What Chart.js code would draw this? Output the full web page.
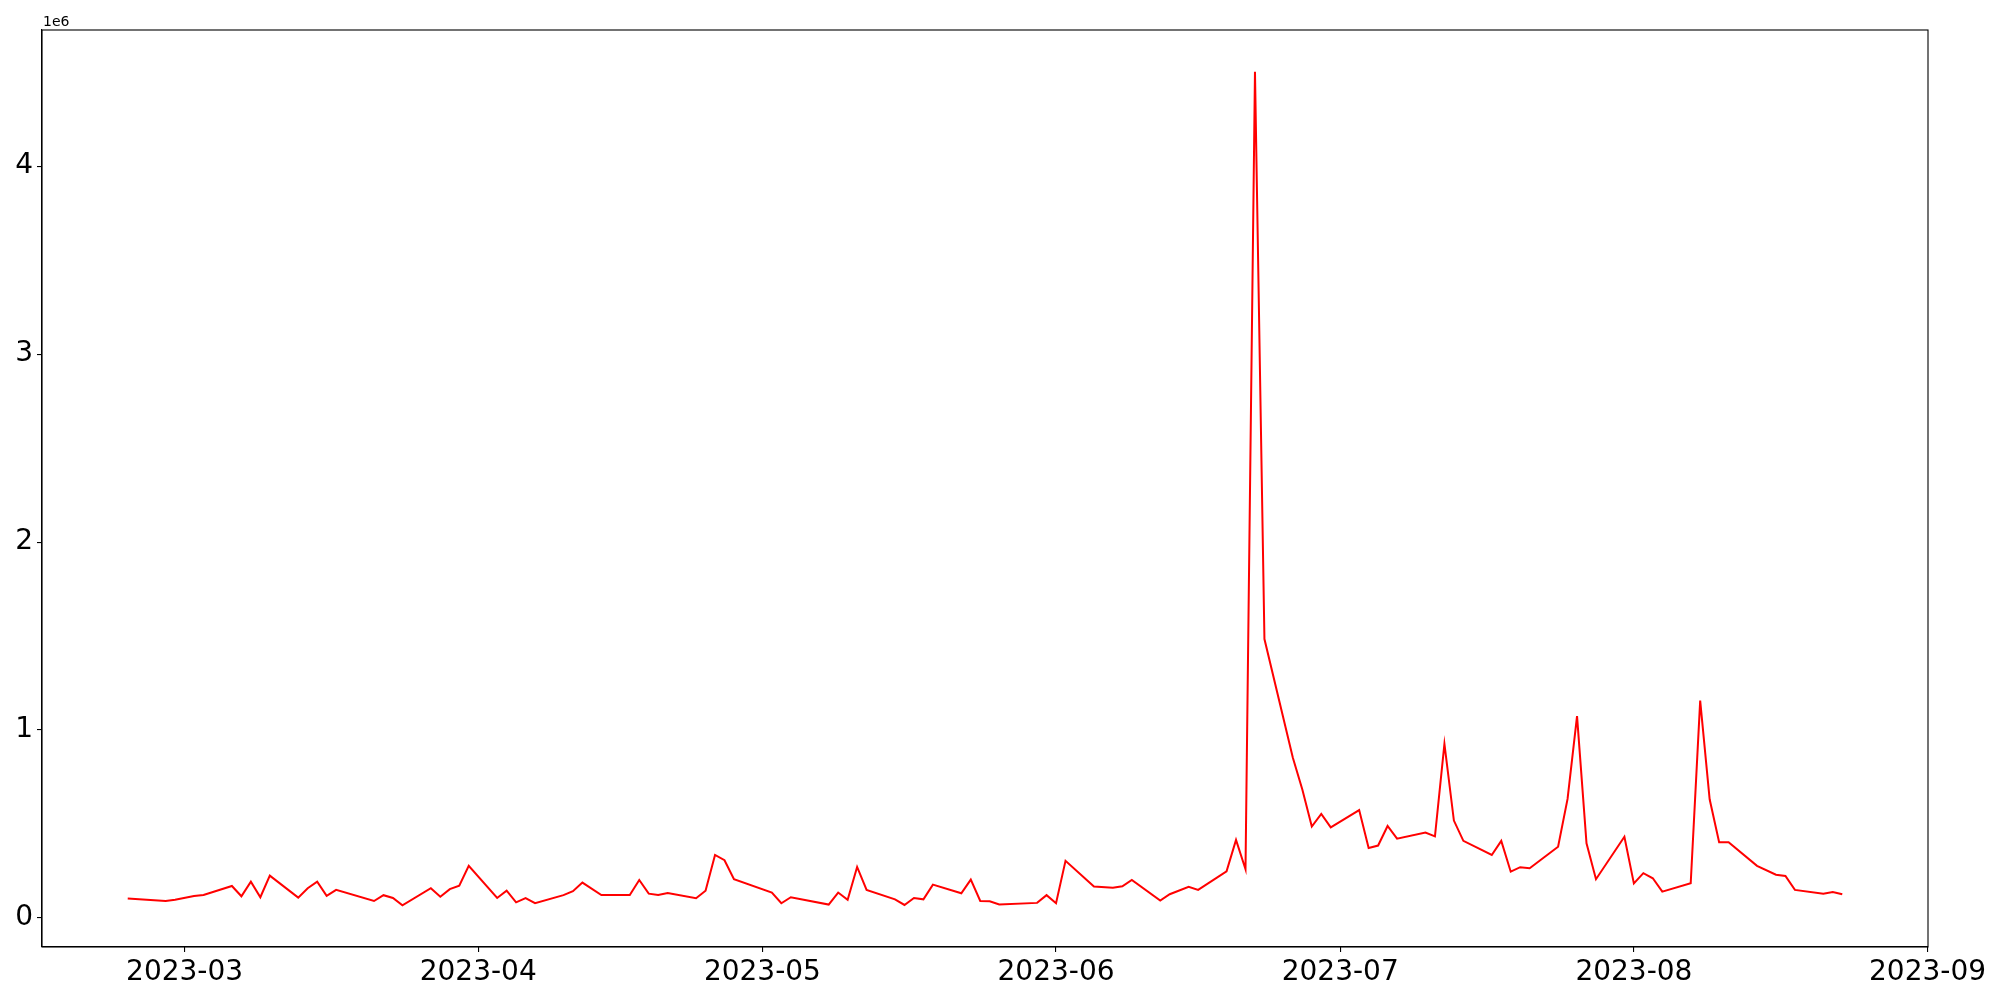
<!DOCTYPE html>
<html><head><meta charset="utf-8">
<script src="https://cdn.jsdelivr.net/npm/chart.js@4/dist/chart.umd.min.js"></script>
<style>html,body{margin:0;padding:0;background:#fff;}</style>
</head><body>
<canvas id="c" width="2000" height="1000"></canvas>
<script>
const dates = [
 '2023-02-23','2023-02-27','2023-02-28','2023-03-02','2023-03-03','2023-03-06','2023-03-07','2023-03-08','2023-03-09','2023-03-10',
 '2023-03-13','2023-03-14','2023-03-15','2023-03-16','2023-03-17','2023-03-21','2023-03-22','2023-03-23','2023-03-24',
 '2023-03-27','2023-03-28','2023-03-29','2023-03-30','2023-03-31','2023-04-03','2023-04-04','2023-04-05','2023-04-06','2023-04-07',
 '2023-04-10','2023-04-11','2023-04-12','2023-04-14','2023-04-17','2023-04-18','2023-04-19','2023-04-20','2023-04-21',
 '2023-04-24','2023-04-25','2023-04-26','2023-04-27','2023-04-28','2023-05-02','2023-05-03','2023-05-04',
 '2023-05-08','2023-05-09','2023-05-10','2023-05-11','2023-05-12','2023-05-15','2023-05-16','2023-05-17','2023-05-18','2023-05-19',
 '2023-05-22','2023-05-23','2023-05-24','2023-05-25','2023-05-26','2023-05-30','2023-05-31','2023-06-01','2023-06-02',
 '2023-06-05','2023-06-07','2023-06-08','2023-06-09','2023-06-12','2023-06-13','2023-06-15','2023-06-16',
 '2023-06-19','2023-06-20','2023-06-21','2023-06-22','2023-06-23','2023-06-26','2023-06-27','2023-06-28','2023-06-29','2023-06-30',
 '2023-07-03','2023-07-04','2023-07-05','2023-07-06','2023-07-07','2023-07-10','2023-07-11','2023-07-12','2023-07-13','2023-07-14',
 '2023-07-17','2023-07-18','2023-07-19','2023-07-20','2023-07-21','2023-07-24','2023-07-25','2023-07-26','2023-07-27','2023-07-28',
 '2023-07-31','2023-08-01','2023-08-02','2023-08-03','2023-08-04','2023-08-07','2023-08-08','2023-08-09','2023-08-10','2023-08-11',
 '2023-08-14','2023-08-16','2023-08-17','2023-08-18','2023-08-21','2023-08-22','2023-08-23'
];
const values = [
 103000, 90000, 97000, 117000, 122000, 170000, 115000, 193000, 110000, 225000,
 108000, 158000, 193000, 117000, 149000, 90000, 121000, 106000, 67000,
 158000, 113000, 153000, 172000, 277000, 106000, 145000, 83000, 105000, 78000,
 121000, 142000, 188000, 122000, 122000, 202000, 129000, 122000, 133000,
 105000, 145000, 335000, 307000, 206000, 135000, 78000, 110000,
 71000, 135000, 96000, 271000, 149000, 99000, 69000, 106000, 99000, 177000,
 131000, 204000, 90000, 89000, 71000, 80000, 121000, 78000, 304000,
 167000, 160000, 168000, 202000, 92000, 126000, 165000, 149000,
 248000, 415000, 259000, 4503000, 1484000, 852000, 683000, 486000, 553000, 482000,
 574000, 372000, 385000, 489000, 422000, 454000, 434000, 926000, 518000, 410000,
 335000, 410000, 246000, 270000, 264000, 379000, 633000, 1074000, 397000, 206000,
 432000, 184000, 238000, 211000, 140000, 184000, 1156000, 631000, 403000, 403000,
 277000, 230000, 223000, 149000, 128000, 138000, 126000
];
const monthTicks = ['2023-03','2023-04','2023-05','2023-06','2023-07','2023-08','2023-09'];
const yTicks = [0, 1000000, 2000000, 3000000, 4000000];
const offsetText = '1e6';

const DAY = 86400000;
const toDay = s => Date.parse(s + 'T00:00:00Z') / DAY;
const xs = dates.map(toDay);
const points = xs.map((x, i) => ({x: x, y: values[i]}));
const xMin0 = Math.min(...xs), xMax0 = Math.max(...xs);
const xPad = (xMax0 - xMin0) * 0.05;
const yMin0 = Math.min(...values), yMax0 = Math.max(...values);
const yPad = (yMax0 - yMin0) * 0.05;
const monthDays = monthTicks.map(m => toDay(m + '-01'));

Chart.defaults.font.family = "'DejaVu Sans', sans-serif";
Chart.defaults.color = '#000';

const frame = {
  id: 'frame',
  afterDraw(chart) {
    const ctx = chart.ctx, a = chart.chartArea;
    ctx.save();
    ctx.strokeStyle = '#000';
    ctx.lineWidth = 1.1;
    ctx.strokeRect(a.left, a.top, a.right - a.left, a.bottom - a.top);
    ctx.font = '14px "DejaVu Sans"';
    ctx.fillStyle = '#000';
    ctx.textAlign = 'left';
    ctx.textBaseline = 'alphabetic';
    ctx.fillText(offsetText, a.left + 1, a.top - 4);
    ctx.restore();
  }
};

const axisGrid = {drawOnChartArea: false, drawTicks: true, tickLength: 5, color: '#000', lineWidth: 1.1};
const axisBorder = {display: true, color: '#000', width: 1.1};

new Chart(document.getElementById('c'), {
  type: 'line',
  data: {datasets: [{data: points, borderColor: '#ff0000', borderWidth: 2, pointRadius: 0, tension: 0, fill: false}]},
  options: {
    responsive: false, animation: false, events: [],
    layout: {padding: {left: 0, right: 72, top: 30, bottom: 0}},
    plugins: {legend: {display: false}, tooltip: {enabled: false}},
    scales: {
      x: {
        type: 'linear', min: xMin0 - xPad, max: xMax0 + xPad,
        afterBuildTicks: s => { s.ticks = monthDays.map(v => ({value: v})); },
        afterFit: s => { s.height = 53; },
        ticks: {font: {size: 28}, padding: 4, maxRotation: 0, autoSkip: false,
                callback: (v, i) => monthTicks[i]},
        grid: axisGrid, border: axisBorder
      },
      y: {
        type: 'linear', min: yMin0 - yPad, max: yMax0 + yPad,
        afterBuildTicks: s => { s.ticks = yTicks.map(v => ({value: v})); },
        afterFit: s => { s.width = 42; },
        ticks: {font: {size: 28}, padding: 4, callback: v => String(v / 1000000)},
        grid: axisGrid, border: axisBorder
      }
    }
  },
  plugins: [frame]
});
</script>
</body></html>
